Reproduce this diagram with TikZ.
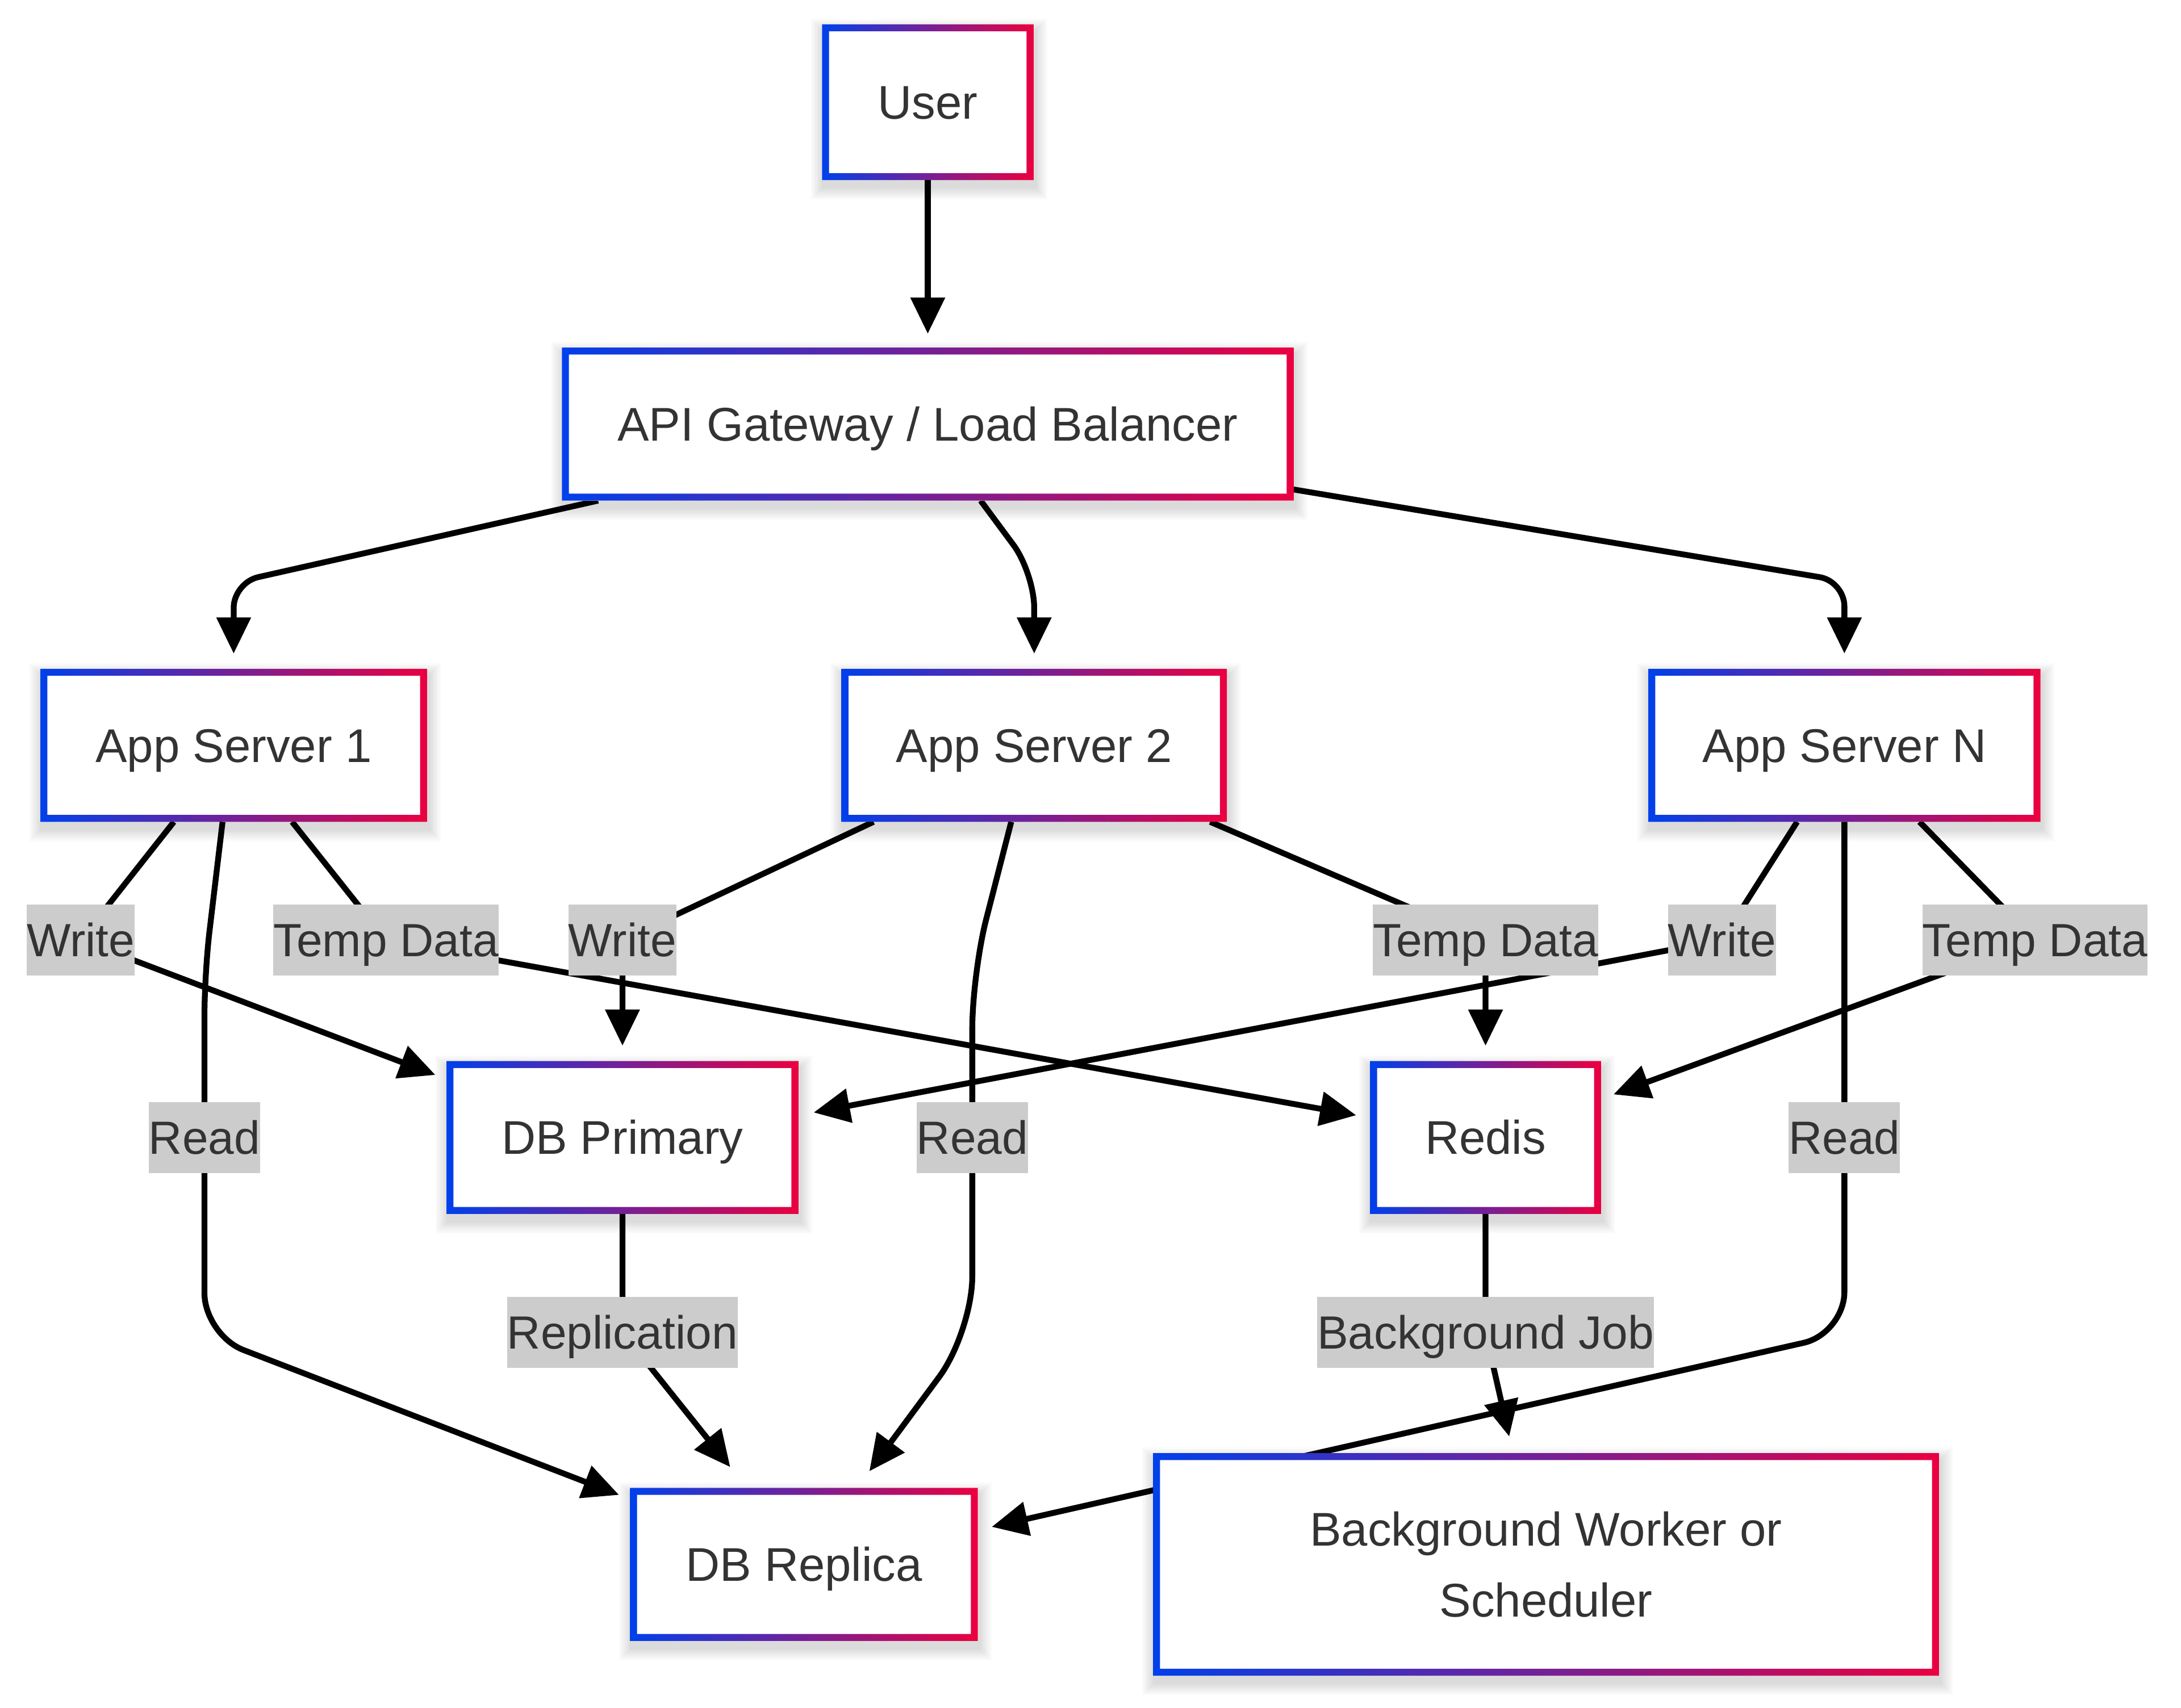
\documentclass[tikz,border=0pt]{standalone}
\usepackage{fontspec}
\setmainfont{Liberation Sans}
\usetikzlibrary{arrows.meta,calc}
\definecolor{gblue}{RGB}{0,64,235}
\definecolor{gred}{RGB}{235,0,64}
\definecolor{txt}{HTML}{333333}
\definecolor{lblbg}{HTML}{CCCCCC}
\pgfdeclarelayer{bg}
\pgfdeclarelayer{edges}
\pgfdeclarelayer{shadow}
\pgfsetlayers{bg,edges,shadow,main}
\newcommand\gframe[1]{%
  \begin{pgfonlayer}{shadow}
  \foreach \i in {1,...,9}{
    \fill[black,opacity=0.014]
      ([xshift=-\i pt+1pt,yshift=\i pt-5pt]#1.north west) rectangle ([xshift=\i pt+1pt,yshift=-\i pt-5pt]#1.south east);}
  \end{pgfonlayer}
  \shade[left color=gblue,right color=gred,even odd rule]
    (#1.south west) rectangle (#1.north east)
    ([xshift=5pt,yshift=-5pt]#1.north west) rectangle ([xshift=-5pt,yshift=5pt]#1.south east);}
\tikzset{
  box/.style={fill=white, inner sep=0pt, outer sep=0pt, text=txt,
    font=\fontsize{34}{51}\selectfont, align=center},
  oneline/.style={text height=24pt, text depth=0pt},
  lbl/.style={fill=lblbg, inner xsep=0pt, inner ysep=0pt, outer sep=0pt, minimum height=51pt,
    text height=24pt, text depth=0pt, text=txt, font=\fontsize{33.5}{40}\selectfont},
  edge/.style={draw=black, line width=4.2pt, line join=round,
    -{Triangle[length=26pt,width=24pt]}}
}
\begin{document}
\begin{tikzpicture}[x=1pt,y=-1pt]
\useasboundingbox (0,0) rectangle (1568,1228);
\begin{pgfonlayer}{bg}
\fill[white] (0,0) rectangle (1568,1228);
\end{pgfonlayer}

% nodes
\node[box,oneline,minimum width=152pt,minimum height=112pt] (user) at (667,73.5) {User};
\node[box,oneline,minimum width=526pt,minimum height=110pt] (api) at (667,305) {API Gateway / Load Balancer};
\node[box,oneline,minimum width=278pt,minimum height=110pt] (as1) at (168,536) {App Server 1};
\node[box,oneline,minimum width=277pt,minimum height=110pt] (as2) at (743.5,536) {App Server 2};
\node[box,oneline,minimum width=282pt,minimum height=110pt] (asn) at (1326,536) {App Server N};
\node[box,oneline,minimum width=253pt,minimum height=110pt] (dbp) at (447.5,818) {DB Primary};
\node[box,oneline,minimum width=166pt,minimum height=110pt] (redis) at (1068,818) {Redis};
\node[box,oneline,minimum width=250pt,minimum height=110pt] (dbr) at (578,1125) {DB Replica};
\node[box,minimum width=565pt,minimum height=160pt] (bgw) at (1111.5,1125) {Background Worker or\\Scheduler};

\foreach \n in {user,api,as1,as2,asn,dbp,redis,dbr,bgw}{\gframe{\n}}

% edge labels
\node[lbl] (w1) at (58,676) {Write};
\node[lbl] (t1) at (277.5,676) {Temp Data};
\node[lbl] (w2) at (447.5,676) {Write};
\node[lbl] (t2) at (1068,676) {Temp Data};
\node[lbl] (w3) at (1238,676) {Write};
\node[lbl] (t3) at (1463,676) {Temp Data};
\node[lbl] (r1) at (147,818) {Read};
\node[lbl] (r2) at (699,818) {Read};
\node[lbl] (r3) at (1326,818) {Read};
\node[lbl] (rep) at (447.5,958) {Replication};
\node[lbl] (bj) at (1068,958) {Background Job};

% edges
\begin{pgfonlayer}{edges}
\draw[edge] (user.south) -- ([yshift=10pt]api.north);
\draw[edge,rounded corners=18pt] ([xshift=26pt]api.south west) -- ([yshift=62pt]as1.north) -- ([yshift=11pt]as1.north);
\draw[edge,rounded corners=25pt] ([xshift=38pt]api.south) -- ([yshift=69pt]as2.north) -- ([yshift=11pt]as2.north);
\draw[edge,rounded corners=18pt] ([yshift=8pt]api.south east) -- ([yshift=63pt]asn.north) -- ([yshift=11pt]asn.north);

\draw[edge] ([xshift=-43pt]as1.south) -- (w1.center) -- ([xshift=-8pt,yshift=-10pt]dbp.north west);
\draw[edge] ([xshift=42pt]as1.south) -- (t1.center) -- ([xshift=-10pt,yshift=16pt]redis.west);
\draw[edge,rounded corners=30pt] ([xshift=-8pt]as1.south) -- ([yshift=118pt]r1.center) -- ([yshift=-142pt]r1.center) -- ([xshift=-8pt,yshift=-5pt]dbr.north west);

\draw[edge] ([xshift=23pt]as2.south west) -- (w2.center) -- ([yshift=11pt]dbp.north);
\draw[edge] ([xshift=-12pt]as2.south east) -- (t2.center) -- ([yshift=11pt]redis.north);
\draw[edge,rounded corners=40pt] ([xshift=-16.5pt]as2.south) -- ([yshift=118pt]r2.center) -- ([yshift=-140pt]r2.center) -- ([xshift=47pt,yshift=12pt]dbr.north);

\draw[edge] ([xshift=-34pt]asn.south) -- (w3.center) -- ([xshift=11pt,yshift=18pt]dbp.east);
\draw[edge] ([xshift=54pt]asn.south) -- (t3.center) -- ([xshift=9pt,yshift=31pt]redis.east);
\draw[edge,rounded corners=30pt] (asn.south) -- ([yshift=-141pt]r3.center) -- ([xshift=10pt,yshift=27pt]dbr.east);

\draw[edge] (dbp.south) -- (rep.center) -- ([xshift=-53pt,yshift=15pt]dbr.north);
\draw[edge] (redis.south) -- (bj.center) -- ([xshift=-26.5pt,yshift=12pt]bgw.north);
\end{pgfonlayer}
\end{tikzpicture}
\end{document}
